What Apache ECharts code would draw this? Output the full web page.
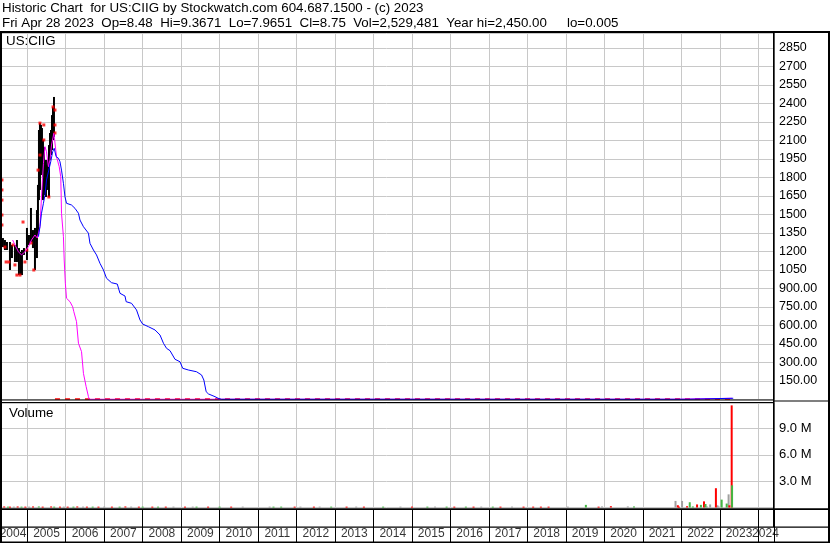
<!DOCTYPE html>
<html><head><meta charset="utf-8">
<script src="https://cdn.jsdelivr.net/npm/echarts@6/dist/echarts.min.js"></script>
<style>html,body{margin:0;padding:0;background:#fff}#c{width:830px;height:543px}</style>
</head><body><div id="c"></div>
<script>
// ---------- DATA ----------
const yearLabels = [2004,2005,2006,2007,2008,2009,2010,2011,2012,2013,2014,2015,2016,2017,2018,2019,2020,2021,2022,2023,2024];
// price bars: [year, high, low]
const priceBars = [
 [2004.368,1309,1236],[2004.420,1293,1212],[2004.472,1277,1212],[2004.550,1277,1050],
 [2004.602,1253,1147],[2004.680,1253,1115],[2004.732,1293,1115],[2004.784,1228,1009],
 [2004.836,1196,1009],[2004.862,1212,1009],[2004.914,1228,1172],[2004.992,1391,1131],
 [2005.044,1334,1253],[2005.096,1553,1277],[2005.148,1374,1228],[2005.200,1391,1050],
 [2005.252,1536,1147],[2005.278,1740,1334],[2005.304,2185,1617],[2005.330,2241,1699],
 [2005.356,2226,1820],[2005.382,2201,1860],[2005.408,2104,1617],[2005.434,2047,1837],
 [2005.460,1901,1658],[2005.486,1942,1642],[2005.512,1901,1699],[2005.538,1942,1740],
 [2005.564,2063,1642],[2005.590,2161,1942],[2005.616,2185,1982],[2005.642,2306,2023],
 [2005.668,2372,2104],[2005.694,2453,2128]
];
// red close/open ticks: [year, price]
const priceMarks = [
 [2004.342,1780],[2004.342,1699],[2004.342,1617],[2004.342,1496],[2004.342,1415],
 [2004.42,1236],[2004.45,1115],[2004.52,1115],[2004.63,1253],[2004.68,1091],
 [2004.73,1009],[2004.81,1009],[2004.89,1439],[2004.94,1115],[2004.99,1212],
 [2005.10,1269],[2005.17,1050],[2005.28,1860],[2005.33,2241],[2005.33,1982],
 [2005.43,2226],[2005.43,2104],[2005.56,1642],[2005.67,2372],[2005.72,2347],
 [2005.72,2226],[2005.72,2161]
];
// near-zero closes after the collapse
const closeFloor = [[2005.72,4],[2023.32,4]];
// magenta moving average
const maShort = [
 [2004.62,1293],[2004.68,1253],[2004.77,1198],[2004.85,1172],[2004.94,1198],[2005.03,1239],
 [2005.11,1293],[2005.20,1334],[2005.26,1309],[2005.33,1401],[2005.37,1644],[2005.42,1915],
 [2005.46,2050],[2005.50,2009],[2005.55,1888],[2005.59,1942],[2005.63,2063],[2005.69,2158],
 [2005.72,2080],[2005.76,1969],[2005.83,1888],[2005.87,1806],[2005.88,1674],[2005.89,1510],
 [2005.94,1320],[2005.96,1131],[2005.99,942],[2006.02,821],[2006.11,793],[2006.18,752],
 [2006.21,712],[2006.28,631],[2006.33,456],[2006.41,388],[2006.46,212],[2006.53,104],
 [2006.59,23],[2006.61,2],[2021.87,2],[2021.88,10],[2023.32,10]
];
// blue moving average
const maLong = [
 [2005.29,1320],[2005.33,1401],[2005.37,1510],[2005.42,1591],[2005.46,1658],[2005.50,1780],
 [2005.56,1860],[2005.61,1928],[2005.66,2009],[2005.70,2037],[2005.75,1969],[2005.81,1956],
 [2005.85,1928],[2005.89,1860],[2005.94,1753],[2005.98,1644],[2006.02,1591],[2006.15,1577],
 [2006.24,1550],[2006.33,1510],[2006.37,1455],[2006.46,1401],[2006.59,1348],[2006.63,1266],
 [2006.72,1212],[2006.80,1172],[2006.89,1104],[2006.98,1050],[2007.06,983],[2007.19,947],
 [2007.34,936],[2007.41,861],[2007.54,839],[2007.57,793],[2007.71,780],[2007.84,726],
 [2007.93,645],[2008.00,612],[2008.15,590],[2008.32,564],[2008.45,523],[2008.54,456],
 [2008.62,415],[2008.71,396],[2008.84,326],[2008.97,306],[2009.04,253],[2009.19,239],
 [2009.40,225],[2009.53,199],[2009.59,158],[2009.65,63],[2009.71,45],[2009.88,23],
 [2009.96,10],[2010.05,2],[2022.15,2],[2022.16,10],[2023.35,10]
];
// volume: [year, shares]
const volRed = [
 [2004.40,0.12e6],[2004.55,0.1e6],[2004.75,0.12e6],[2004.95,0.1e6],[2005.15,0.12e6],[2005.40,0.1e6],
 [2005.62,0.12e6],[2005.85,0.1e6],[2006.05,0.1e6],[2006.30,0.12e6],[2006.55,0.1e6],[2006.85,0.1e6],
 [2007.20,0.1e6],[2007.55,0.12e6],[2007.90,0.1e6],[2008.25,0.1e6],[2008.60,0.1e6],[2009.10,0.1e6],
 [2009.70,0.1e6],[2010.30,0.1e6],[2011.95,0.1e6],[2012.45,0.1e6],[2013.30,0.1e6],[2013.75,0.1e6],
 [2015.00,0.1e6],[2016.10,0.1e6],[2016.60,0.1e6],[2017.30,0.1e6],[2017.90,0.1e6],[2018.15,0.1e6],
 [2018.35,0.1e6],[2018.55,0.1e6],[2019.85,0.1e6],[2020.17,0.15e6],
 [2021.91,0.26e6],[2021.94,0.1e6],[2022.15,0.15e6],[2022.41,0.35e6],[2022.59,0.7e6],
 [2022.90,2.2e6],[2023.25,0.25e6],[2023.31,11.65e6]
];
const volGreen = [
 [2004.50,0.1e6],[2004.85,0.1e6],[2005.30,0.12e6],[2005.70,0.1e6],[2006.20,0.1e6],[2006.70,0.1e6],
 [2007.40,0.1e6],[2008.00,0.1e6],[2008.40,0.1e6],[2009.40,0.1e6],[2010.00,0.1e6],[2011.40,0.1e6],
 [2011.60,0.1e6],[2012.90,0.1e6],[2014.25,0.1e6],[2015.40,0.1e6],[2015.90,0.1e6],[2016.40,0.1e6],
 [2017.10,0.1e6],[2019.52,0.3e6],[2020.77,0.12e6],
 [2022.22,0.6e6],[2022.30,0.12e6],[2022.51,0.3e6],[2022.63,0.4e6],[2023.05,0.9e6],
 [2023.18,0.45e6],[2023.32,2.53e6]
];
const volGray = [
 [2004.65,0.1e6],[2005.05,0.1e6],[2005.95,0.1e6],[2006.45,0.1e6],[2007.00,0.1e6],[2007.70,0.1e6],
 [2008.80,0.1e6],[2009.30,0.1e6],[2010.60,0.1e6],[2011.30,0.1e6],[2012.10,0.1e6],[2012.60,0.1e6],
 [2013.55,0.1e6],[2014.70,0.1e6],[2015.60,0.1e6],[2016.80,0.1e6],[2017.60,0.1e6],[2019.05,0.1e6],
 [2019.94,0.12e6],[2020.61,0.12e6],
 [2021.85,0.75e6],[2022.02,0.75e6],[2022.67,0.12e6],[2022.75,0.35e6],[2022.94,0.25e6],
 [2022.97,0.12e6],[2023.23,1.5e6]
];
const headerLine1 = 'Historic Chart  for US:CIIG by Stockwatch.com 604.687.1500 - (c) 2023';
const headerLine2 = ['Fri Apr 28 2023','Op=8.48','Hi=9.3671','Lo=7.9651','Cl=8.75','Vol=2,529,481','Year hi=2,450.00'];
const headerLo = 'lo=0.005';

// ---------- LAYOUT ----------
const FONT = '"Liberation Sans", Arial, sans-serif';
const HFONT = '13.33px ' + FONT;
const X_MIN = 2004, X_MAX = 2024.41;
const GL = -11.2, GR = 56;

function xAxisCfg(idx, splitColor) {
  return {type:'value', gridIndex:idx, min:X_MIN, max:X_MAX, interval:1,
    axisLine:{show:false}, axisTick:{show:false}, axisLabel:{show:false},
    splitLine:{show:true, lineStyle:{color:splitColor, width:1}}};
}

const chart = echarts.init(document.getElementById('c'), null, {renderer:'canvas'});

function barRender(color, width) {
  return function(params, api) {
    const x = api.value(0);
    const top = api.coord([x, api.value(1)]);
    const bot = api.coord([x, api.value(2)]);
    return {type:'rect', shape:{x: top[0]-width/2, y: top[1], width: width, height: Math.max(1, bot[1]-top[1])},
      style:{fill: color}};
  };
}
function volRender(color) {
  return function(params, api) {
    const x = api.value(0);
    const top = api.coord([x, api.value(1)]);
    const bot = api.coord([x, 0]);
    return {type:'rect', shape:{x: top[0]-1, y: top[1], width: 2, height: Math.max(1, bot[1]-top[1])},
      style:{fill: color}};
  };
}

const yearLabelData = yearLabels.map(function(y){
  const item = {value:[y+0.5, 0.26], name:String(y)};
  if (y === 2004) item.label = {offset:[5,0]};
  if (y === 2024) item.label = {offset:[-12,0]};
  return item;
});

const graphics = [
  {type:'rect', shape:{x:0,y:31,width:830,height:2}, style:{fill:'#000'}, z:100},
  {type:'rect', shape:{x:0,y:33,width:2,height:510}, style:{fill:'#000'}, z:100},
  {type:'rect', shape:{x:828,y:31,width:2,height:512}, style:{fill:'#000'}, z:100},
  {type:'rect', shape:{x:773,y:33,width:1.6,height:494}, style:{fill:'#000'}, z:100},
  {type:'rect', shape:{x:0,y:399.5,width:774,height:1}, style:{fill:'#000'}, z:100},
  {type:'rect', shape:{x:0,y:402,width:774,height:1}, style:{fill:'#000'}, z:100},
  {type:'rect', shape:{x:774,y:400.5,width:56,height:1}, style:{fill:'#000'}, z:100},
  {type:'rect', shape:{x:0,y:508.3,width:830,height:1.7}, style:{fill:'#000'}, z:100},
  {type:'rect', shape:{x:0,y:526.5,width:830,height:1.3}, style:{fill:'#000'}, z:100},
  {type:'rect', shape:{x:0,y:541.5,width:830,height:1.5}, style:{fill:'#000'}, z:100},
  {type:'text', x:2, y:8.5, style:{text:headerLine1, font:HFONT, fill:'#000', verticalAlign:'middle'}, z:100},
  {type:'text', x:2, y:23.3, style:{text:headerLine2.join('  '), font:HFONT, fill:'#000', verticalAlign:'middle'}, z:100},
  {type:'text', x:567, y:23.3, style:{text:headerLo, font:HFONT, fill:'#000', verticalAlign:'middle'}, z:100},
  {type:'text', x:6, y:41.5, style:{text:'US:CIIG', font:HFONT, fill:'#000', verticalAlign:'middle'}, z:100},
  {type:'text', x:9, y:413, style:{text:'Volume', font:HFONT, fill:'#000', verticalAlign:'middle'}, z:100}
];

const option = {
  animation:false,
  backgroundColor:'#fff',
  grid:[
    {left:GL, right:GR, top:33, height:366.5, containLabel:false, outerBoundsMode:'none'},
    {left:GL, right:GR, top:403, height:104.5, containLabel:false, outerBoundsMode:'none'},
    {left:GL, right:GR, top:509, height:34, containLabel:false, outerBoundsMode:'none'}
  ],
  xAxis:[ xAxisCfg(0,'#c8c8c8'), xAxisCfg(1,'#c8c8c8'), xAxisCfg(2,'#000') ],
  yAxis:[
    {type:'value', gridIndex:0, position:'right', min:0, max:2971.6, interval:150,
      axisLine:{show:false}, axisTick:{show:false},
      splitLine:{show:true, lineStyle:{color:'#c8c8c8', width:1}},
      axisLabel:{margin:5, color:'#000', fontFamily:FONT, fontSize:12.5,
        formatter:function(v){ if (v<=0 || v>2850) return ''; return v>=1000 ? String(v) : v.toFixed(2); }}},
    {type:'value', gridIndex:1, position:'right', min:0, max:11.92e6, interval:3e6,
      axisLine:{show:false}, axisTick:{show:false},
      splitLine:{show:true, lineStyle:{color:'#c8c8c8', width:1}},
      axisLabel:{margin:5, color:'#000', fontFamily:FONT, fontSize:13,
        formatter:function(v){ if (v<=0 || v>9e6) return ''; return (v/1e6).toFixed(1)+' M'; }}},
    {type:'value', gridIndex:2, min:0, max:1, show:false, splitLine:{show:false}}
  ],
  series:[
    {type:'line', xAxisIndex:0, yAxisIndex:0, data:closeFloor, symbol:'none',
      lineStyle:{color:'#ff0000', width:1.5, type:[5,5]}, z:2},
    {type:'custom', xAxisIndex:0, yAxisIndex:0, data:priceBars, renderItem:barRender('#000',2),
      encode:{x:0, y:[1,2]}, z:3},
    {type:'scatter', xAxisIndex:0, yAxisIndex:0, data:priceMarks, symbol:'rect', symbolSize:3,
      itemStyle:{color:'#ff0000'}, z:4},
    {type:'line', xAxisIndex:0, yAxisIndex:0, data:maShort, symbol:'none',
      lineStyle:{color:'#ff00ff', width:1}, z:5},
    {type:'line', xAxisIndex:0, yAxisIndex:0, data:maLong, symbol:'none',
      lineStyle:{color:'#0000ff', width:1}, z:6},
    {type:'custom', xAxisIndex:1, yAxisIndex:1, data:volGray, renderItem:volRender('#a0a0a0'), encode:{x:0,y:1}, z:3},
    {type:'custom', xAxisIndex:1, yAxisIndex:1, data:volRed, renderItem:volRender('#ff0000'), encode:{x:0,y:1}, z:4},
    {type:'custom', xAxisIndex:1, yAxisIndex:1, data:volGreen, renderItem:volRender('#44b844'), encode:{x:0,y:1}, z:5},
    {type:'scatter', xAxisIndex:2, yAxisIndex:2, data:yearLabelData, symbolSize:0, clip:false, silent:true,
      label:{show:true, position:'inside', color:'#000', fontFamily:FONT, fontSize:12,
        formatter:function(p){ return p.name; }}, z:10}
  ],
  graphic:graphics
};
chart.setOption(option);
</script></body></html>
